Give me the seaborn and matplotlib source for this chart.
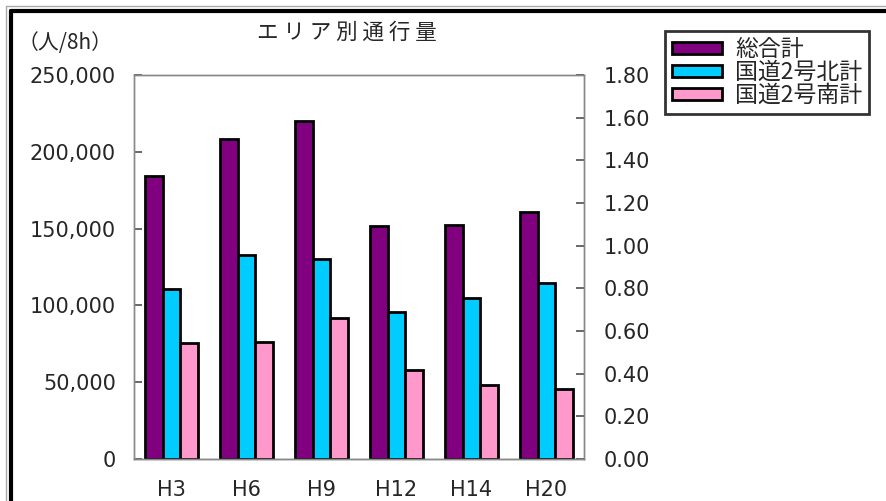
import matplotlib
matplotlib.use("Agg")
import matplotlib.pyplot as plt
import matplotlib.ticker as mticker
from matplotlib.patches import Rectangle
import seaborn as sns
import pandas as pd

years = ["H3", "H6", "H9", "H12", "H14", "H20"]
series = ["総合計", "国道2号北計", "国道2号南計"]
total = [184000, 208500, 220000, 151700, 152300, 160500]
north = [110500, 132800, 130200, 95500, 104600, 114500]
south = [75300, 76200, 91800, 57800, 48000, 45500]
colors = ["#800080", "#00CCFF", "#FF99CC"]

rows = []
for s, vals in zip(series, [total, north, south]):
    for y, v in zip(years, vals):
        rows.append({"year": y, "series": s, "value": v})
df = pd.DataFrame(rows)

sns.set_theme(style="white")
plt.rcParams['font.family'] = ['Noto Sans CJK JP', 'DejaVu Sans']

fig = plt.figure(figsize=(8.87, 5.01), dpi=100)
ax = fig.add_axes([134/887, 1-459/501, (584-134)/887, (459-75)/501])

sns.barplot(data=df, x="year", y="value", hue="series", order=years,
            hue_order=series, palette=dict(zip(series, colors)),
            saturation=1, width=0.7, edgecolor="black", linewidth=2.0,
            ax=ax, legend=False)

numfont = ['DejaVu Sans']
ax.set_ylim(0, 250000)
ax.set_xlim(-0.5, 5.5)
ax.set_yticks(range(0, 250001, 50000))
ax.yaxis.set_major_formatter(mticker.FuncFormatter(lambda v, p: f"{int(v):,}"))
ax.set_xticks([i + 0.5 for i in range(5)], minor=True)
ax.set_xticks(range(6))
ax.set_xticklabels(years)
ax.tick_params(axis="x", which="major", length=0, pad=15, labelsize=15)
ax.tick_params(axis="x", which="minor", direction="in", length=6, color="#555555")
ax.tick_params(axis="y", direction="in", length=6, pad=13, labelsize=15, color="#555555", left=True)
for lab in ax.get_xticklabels() + ax.get_yticklabels():
    lab.set_family(numfont)
ax.set_xlabel("")
ax.set_ylabel("")
for sp in ax.spines.values():
    sp.set_color("#888888")
    sp.set_linewidth(1.0)
ax.spines["bottom"].set_color("#555555")

ax2 = ax.twinx()
ax2.set_ylim(0, 1.8)
ax2.set_yticks([i * 0.2 for i in range(10)])
ax2.yaxis.set_major_formatter(mticker.FormatStrFormatter("%.2f"))
ax2.tick_params(axis="y", direction="in", length=6, pad=14, labelsize=15, color="#555555")
for lab in ax2.get_yticklabels():
    lab.set_family(numfont)
for sp in ax2.spines.values():
    sp.set_color("#888888")
    sp.set_linewidth(1.0)
ax2.grid(False)

fig.text(347/887, 1-33/501, "エ リ ア 別 通 行 量", ha="center", va="center", fontsize=15.5)
fig.text(18/887, 1-43/501, "（人/8h）", ha="left", va="center", fontsize=15)

handles = [Rectangle((0, 0), 1, 1, facecolor=c, edgecolor="black", linewidth=2.0) for c in colors]
leg = fig.legend(handles, series, loc="upper left", bbox_to_anchor=(665/887, 1-31/501),
                 fontsize=16.5, frameon=True, fancybox=False, handlelength=2.2,
                 handleheight=0.42, labelspacing=0.0, borderpad=0.3,
                 handletextpad=0.55, borderaxespad=0)
leg.get_frame().set_edgecolor("black")
leg.get_frame().set_linewidth(2.0)

# outer border of the chart area
fig.add_artist(plt.Line2D([11/887, 11/887], [0, 1-11/501], color="black", lw=3, transform=fig.transFigure))
fig.add_artist(plt.Line2D([11/887, 1], [1-11/501, 1-11/501], color="black", lw=3, transform=fig.transFigure))
fig.add_artist(plt.Line2D([6/887, 1], [1-6/501, 1-6/501], color="#aaaaaa", lw=1, transform=fig.transFigure))
fig.add_artist(plt.Line2D([6/887, 6/887], [0, 1-6/501], color="#aaaaaa", lw=1, transform=fig.transFigure))

fig.savefig("out.png", dpi=100)
